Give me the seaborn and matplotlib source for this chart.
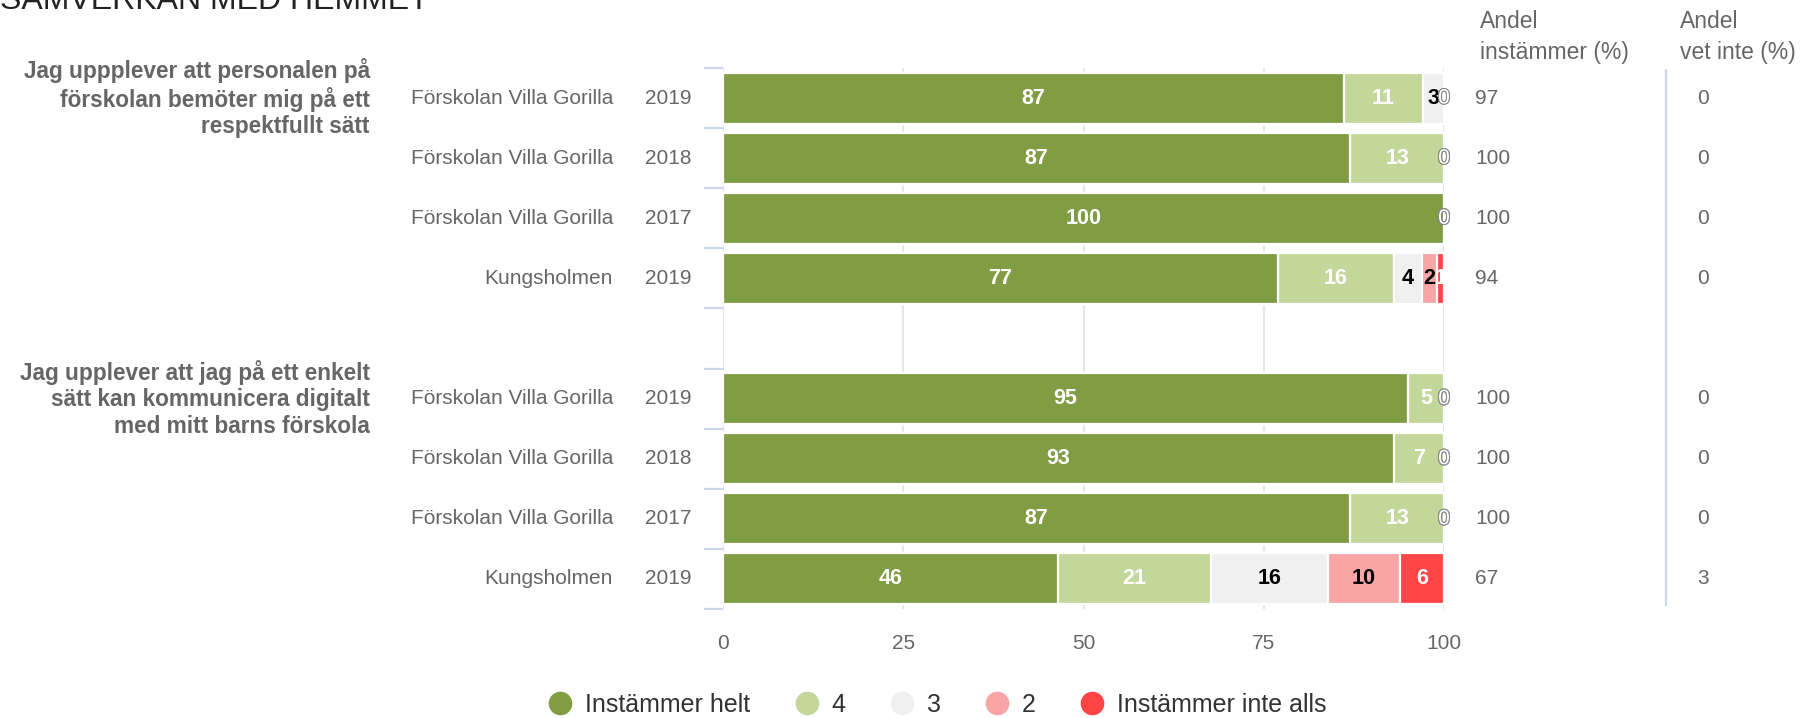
import numpy as np
import pandas as pd
import seaborn as sns
import matplotlib.pyplot as plt
from matplotlib.lines import Line2D
import matplotlib.patheffects as pe

sns.set_style("white")
plt.rcParams['font.family'] = ['Liberation Sans', 'DejaVu Sans']

# data
questions = ["Jag uppplever att personalen på\nförskolan bemöter mig på ett\nrespektfullt sätt",
             "Jag upplever att jag på ett enkelt\nsätt kan kommunicera digitalt\nmed mitt barns förskola"]
units = ["Förskolan Villa Gorilla", "Förskolan Villa Gorilla", "Förskolan Villa Gorilla", "Kungsholmen",
         "Förskolan Villa Gorilla", "Förskolan Villa Gorilla", "Förskolan Villa Gorilla", "Kungsholmen"]
years = ["2019", "2018", "2017", "2019", "2019", "2018", "2017", "2019"]
levels = ["Instämmer helt", "4", "3", "2", "Instämmer inte alls"]
helt = [87, 87, 100, 77, 95, 93, 87, 46]
four = [11, 13, 0, 16, 5, 7, 13, 21]
three = [3, 0, 0, 4, 0, 0, 0, 16]
two = [0, 0, 0, 2, 0, 0, 0, 10]
inte = [0, 0, 0, 1, 0, 0, 0, 6]
andel_instammer = [97, 100, 100, 94, 100, 100, 100, 67]
andel_vet_inte = [0, 0, 0, 0, 0, 0, 0, 3]

colors = ["#819d44", "#c4d79b", "#f0f0f0", "#f9a5a5", "#ff4545"]
label_colors = ["white", "white", "black", "black", "white"]

rows = ["r0", "r1", "r2", "r3", "r4", "r5", "r6", "r7"]
order = rows[:4] + ["gap"] + rows[4:]
vals = np.array([helt, four, three, two, inte], dtype=float).T
share = vals / vals.sum(axis=1, keepdims=True) * 100
cum = share.cumsum(axis=1)
df = pd.DataFrame(cum, columns=["c0", "c1", "c2", "c3", "c4"])
df["row"] = rows

fig = plt.figure(figsize=(18.06, 7.18), dpi=100)
ax = fig.add_axes([0.4003, 0.1518, 0.3993, 0.7535])

# stacked bars: draw cumulative totals from the back
for k in reversed(range(5)):
    sns.barplot(data=df, x="c%d" % k, y="row", order=order, color=colors[k], saturation=1,
                width=0.85, edgecolor="white", linewidth=1.6, errorbar=None, orient="h", ax=ax)

ax.set_xlim(0, 100)
ax.set_ylim(len(order) - 0.5, -0.5)
ax.set_xlabel("")
ax.set_ylabel("")
ax.set_xticks([0, 25, 50, 75, 100])
ax.grid(axis="x", color="#e6e6e6", linewidth=1.5)
ax.set_axisbelow(True)
for s in ax.spines.values():
    s.set_visible(False)
ax.tick_params(axis="x", length=0, pad=18, labelsize=15, labelcolor="#666666")
ax.set_yticks(range(len(order)))
ax.set_yticklabels([])
ax.tick_params(axis="y", which="major", length=0)
ax.set_yticks(np.arange(-0.5, len(order), 1), minor=True)
ax.tick_params(axis="y", which="minor", left=True, length=14, width=1.6, color="#ccd6eb")

ytr = ax.get_yaxis_transform()
for i, r in enumerate(rows):
    y = order.index(r)
    ax.text(-0.1526, y, units[i], transform=ytr, ha="right", va="center", fontsize=15, color="#666666")
    ax.text(-0.043, y, years[i], transform=ytr, ha="right", va="center", fontsize=15, color="#666666")
    ax.text(1.043, y, str(andel_instammer[i]), transform=ytr, ha="left", va="center", fontsize=15, color="#666666")
    ax.text(1.351, y, str(andel_vet_inte[i]), transform=ytr, ha="left", va="center", fontsize=15, color="#666666")
    for k in range(5):
        v = vals[i, k]
        start = cum[i, k] - share[i, k]
        if v == 0:
            ax.text(cum[i, k], y, "0", ha="center", va="center", fontsize=15, color="white",
                    path_effects=[pe.withStroke(linewidth=1.5, foreground="#888888")])
        else:
            ax.text(start + share[i, k] / 2, y, "%d" % v, ha="center", va="center", fontsize=15.5,
                    fontweight="bold", color=label_colors[k])

for q, r in zip(questions, ["r0", "r4"]):
    ax.text(-0.4896, order.index(r), q, transform=ytr, ha="right", va="center", multialignment="right",
            fontsize=16.3, fontweight="bold", color="#666666", linespacing=1.2)

fig.text(0.0, 1 - 9 / 718, "SAMVERKAN MED HEMMET", ha="left", va="baseline", fontsize=23, color="#222222")
fig.text(1480 / 1806, 1 - 10 / 718, "Andel\ninstämmer (%)", ha="left", va="top", fontsize=16.5,
         color="#666666", linespacing=1.45)
fig.text(1680 / 1806, 1 - 10 / 718, "Andel\nvet inte (%)", ha="left", va="top", fontsize=16.5,
         color="#666666", linespacing=1.45)
fig.add_artist(Line2D([1666 / 1806] * 2, [1 - 70 / 718, 1 - 605 / 718], transform=fig.transFigure,
                      color="#ccd6eb", linewidth=1.6))

handles = [Line2D([], [], marker="o", linestyle="", markersize=16, color=c) for c in colors]
fig.legend(handles, levels, loc="center", bbox_to_anchor=(0.519, 1 - 705 / 718), ncol=5, frameon=False,
           fontsize=18, handlelength=1.0, handletextpad=0.5, columnspacing=1.75, labelcolor="#333333")

fig.savefig("out.png", dpi=100)
